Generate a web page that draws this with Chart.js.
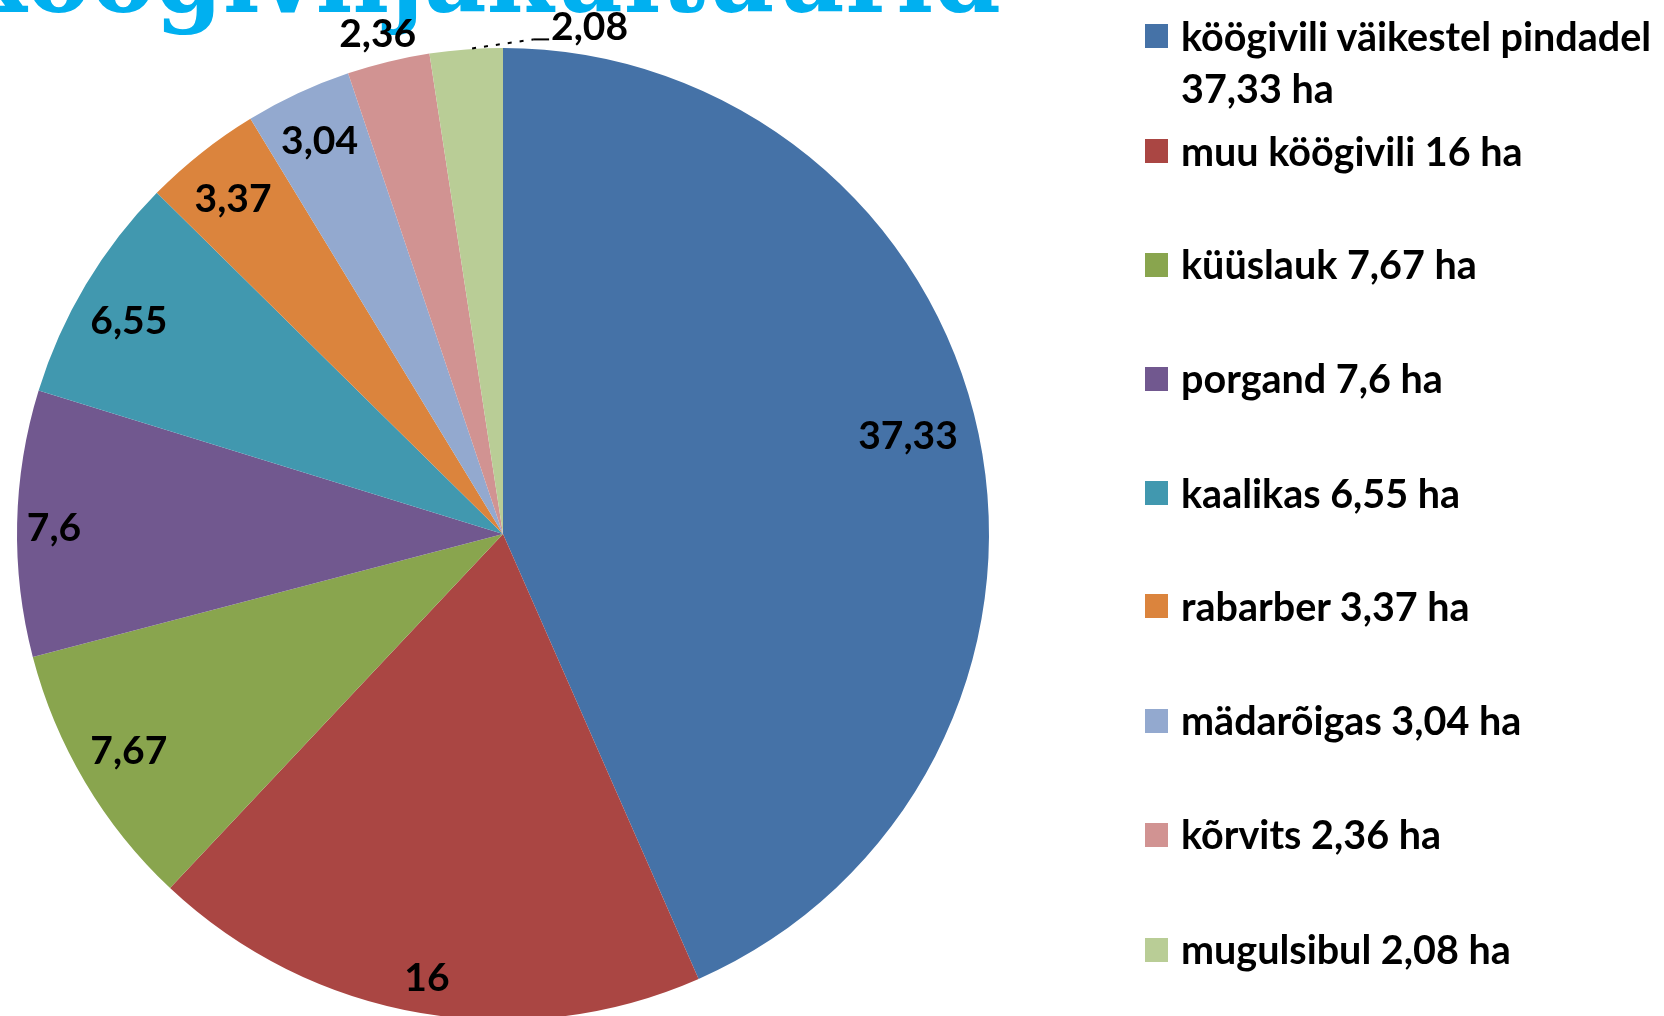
<!DOCTYPE html>
<html>
<head>
<meta charset="utf-8">
<script src="https://cdn.jsdelivr.net/npm/chart.js@4.4.1/dist/chart.umd.min.js"></script>
<style>
  html, body { margin:0; padding:0; width:1664px; height:1016px; overflow:hidden; background:#ffffff; }
  #wrap { position:absolute; left:0; top:0; width:1664px; height:1016px; overflow:hidden; }
  #c { position:absolute; left:0; top:0; z-index:2; }
  #title { position:absolute; right:663px; top:-77px; z-index:1; font-family:"DejaVu Serif", serif; font-weight:bold;
           font-size:105px; line-height:1; color:#00B0F0; white-space:nowrap;
           transform:scaleX(0.92); transform-origin:right top; }
  #legend { position:absolute; left:0; top:0; z-index:3; }
  .lg { position:absolute; left:1145px; width:519px; }
  .lg .sw { position:absolute; left:0; width:23px; height:24px; }
  .lg .tx { position:absolute; left:36px; width:483px; font-family:Lato, "Open Sans", sans-serif; font-weight:bold;
            font-size:39.5px; line-height:52px; color:#000; }
  .lg .nm { white-space:nowrap; }
</style>
</head>
<body>
<div id="wrap">
  <div id="title">köögiviljakultuurid</div>
  <canvas id="c" width="1664" height="1060"></canvas>
  <div id="legend"></div>
</div>
<script>
// ---- data ----
const categories = ['köögivili väikestel pindadel', 'muu köögivili', 'küüslauk', 'porgand', 'kaalikas',
                    'rabarber', 'mädarõigas', 'kõrvits', 'mugulsibul'];
const areas = [37.33, 16, 7.67, 7.6, 6.55, 3.37, 3.04, 2.36, 2.08];
const unit = 'ha';

// ---- style / layout ----
const colors = ['#4572A7', '#AA4643', '#89A54E', '#71588F', '#4198AF', '#DB843D', '#93A9CF', '#D19392', '#B9CD96'];
const labelRadius = [0.858, 0.924, 0.889, 0.924, 0.887, 0.887, 0.895, 1.062, 1.0];
const labelAngleShift = [-1.9, 0, 0.7, -0.4, -1.1, -0.4, 0, -0.4, 0];
const legendBaselines = [48.3, 163.3, 276.7, 390.7, 505, 618.3, 732.7, 846.7, 961.7];

const fmt = v => String(v).replace('.', ',');

// legend (HTML)
const lg = document.getElementById('legend');
const BASE_OFF = 38.5; // baseline offset inside a 52px line
categories.forEach((name, i) => {
  const d = document.createElement('div');
  d.className = 'lg';
  d.style.top = '0px';
  const sw = document.createElement('div');
  sw.className = 'sw';
  sw.style.background = colors[i];
  sw.style.top = (legendBaselines[i] - 24) + 'px';
  const tx = document.createElement('div');
  tx.className = 'tx';
  tx.style.top = (legendBaselines[i] - BASE_OFF) + 'px';
  const nm = document.createElement('span');
  nm.className = 'nm';
  nm.textContent = name;
  tx.appendChild(nm);
  tx.appendChild(document.createTextNode(' ' + fmt(areas[i]) + ' ' + unit));
  d.appendChild(sw);
  d.appendChild(tx);
  lg.appendChild(d);
});

const labelPlugin = {
  id: 'valueLabels',
  afterDatasetsDraw(chart) {
    const ctx = chart.ctx;
    const meta = chart.getDatasetMeta(0);
    ctx.save();
    ctx.font = 'bold 39px Lato, "Open Sans", sans-serif';
    ctx.fillStyle = '#000';
    ctx.textBaseline = 'alphabetic';
    meta.data.forEach((arc, i) => {
      const p = arc.getProps(['x', 'y', 'startAngle', 'endAngle', 'outerRadius'], true);
      const mid = (p.startAngle + p.endAngle) / 2 + labelAngleShift[i] * Math.PI / 180;
      const txt = fmt(areas[i]);
      if (i === areas.length - 1) {
        // outside label with leader line
        const ex = p.x + Math.cos(mid) * p.outerRadius + 6;
        const ey = p.y + Math.sin(mid) * p.outerRadius - 1;
        const bx = ex + 61, by = ey - 9;
        ctx.strokeStyle = '#000';
        ctx.lineWidth = 2;
        ctx.setLineDash([4, 8]);
        ctx.beginPath(); ctx.moveTo(ex, ey); ctx.lineTo(bx, by); ctx.stroke();
        ctx.setLineDash([]);
        ctx.beginPath(); ctx.moveTo(bx, by); ctx.lineTo(bx + 16, by); ctx.stroke();
        ctx.textAlign = 'left';
        ctx.fillText(txt, bx + 18, by + 1);
      } else {
        const r = p.outerRadius * labelRadius[i];
        const lx = p.x + Math.cos(mid) * r;
        const ly = p.y + Math.sin(mid) * r;
        ctx.textAlign = 'center';
        ctx.fillText(txt, lx, ly + 14);
      }
    });
    ctx.restore();
  }
};

new Chart(document.getElementById('c'), {
  type: 'pie',
  data: {
    labels: categories,
    datasets: [{
      data: areas,
      backgroundColor: colors,
      borderWidth: 0,
      hoverOffset: 0,
      offset: 0
    }]
  },
  options: {
    responsive: false,
    animation: false,
    devicePixelRatio: 1,
    layout: { padding: { left: 17, top: 48, right: 675, bottom: 40 } },
    plugins: {
      legend: { display: false },
      tooltip: { enabled: false },
      title: { display: false }
    }
  },
  plugins: [labelPlugin]
});
</script>
</body>
</html>
